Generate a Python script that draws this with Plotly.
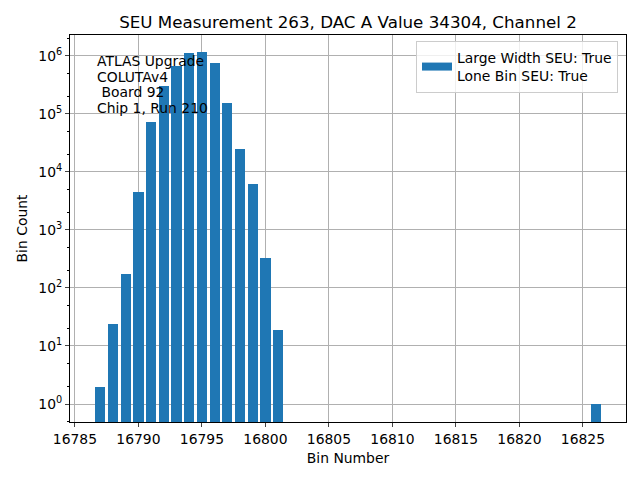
import plotly.graph_objects as go

bins = [16787, 16788, 16789, 16790, 16791, 16792, 16793, 16794, 16795,
        16796, 16797, 16798, 16799, 16800, 16801, 16826]
counts = [2, 24, 174, 4500, 73000, 303000, 670000, 1130000, 1170000,
          760000, 155000, 25000, 6200, 330, 19, 1]
legend_label = "Large Width SEU: True<br>Lone Bin SEU: True"
title = "SEU Measurement 263, DAC A Value 34304, Channel 2"
info_lines = ["ATLAS Upgrade", "COLUTAv4", " Board 92", "Chip 1, Run 210"]
xticks = [16785, 16790, 16795, 16800, 16805, 16810, 16815, 16820, 16825]
yticks = [1, 10, 100, 1000, 10000, 100000, 1000000]
yticktext = ["10<sup>%d</sup>" % i for i in range(7)]

font = "DejaVu Sans"
fs = 13.9
blue = "#1f77b4"
W, H = 640, 480
L, R, T, B = 70, 14, 35, 58
pw, ph = W - L - R, H - T - B

fig = go.Figure()
fig.add_trace(go.Bar(x=bins, y=counts, width=0.8, name=legend_label,
                     marker=dict(color=blue, line=dict(width=0)),
                     showlegend=False))
# legend entry drawn as a wide patch
fig.add_trace(go.Scatter(x=[None], y=[None], mode="lines", name=legend_label,
                         line=dict(color=blue, width=8), showlegend=True))

fig.update_layout(
    width=W, height=H,
    margin=dict(l=L, r=R, t=T, b=B, autoexpand=False),
    paper_bgcolor="white", plot_bgcolor="white",
    font=dict(family=font, size=fs, color="black"),
    title=dict(text=title, x=0.5, xanchor="center", y=1 - 22 / H,
               yanchor="middle", xref="paper",
               font=dict(size=16.7, family=font)),
    bargap=0,
    showlegend=True,
    legend=dict(x=(618 - L) / pw, y=(H - B - 41) / ph, xanchor="right", yanchor="top",
                bgcolor="rgba(255,255,255,0.8)", bordercolor="#cccccc",
                borderwidth=1, font=dict(size=fs, family=font),
                itemwidth=30, tracegroupgap=0),
)
fig.update_xaxes(
    range=[16784.61, 16828.39], tickvals=xticks, ticktext=[str(v) for v in xticks],
    ticks="outside", ticklen=4, automargin=False,
    showgrid=True, gridcolor="#b0b0b0", gridwidth=1,
    showline=True, linecolor="black", mirror=True, zeroline=False,
    title=dict(text="Bin Number", standoff=7, font=dict(size=fs)),
    tickfont=dict(size=fs),
)
fig.update_yaxes(
    type="log", range=[-0.31, 6.36], tickvals=yticks, ticktext=yticktext,
    ticks="outside", ticklen=4, automargin=False,
    showgrid=True, gridcolor="#b0b0b0", gridwidth=1,
    showline=True, linecolor="black", mirror=True, zeroline=False,
    title=dict(text="Bin Count", standoff=7, font=dict(size=fs)),
    tickfont=dict(size=fs),
    minor=dict(ticks="outside", ticklen=2, showgrid=False, tickcolor="black"),
)
line_centers = [61, 76.7, 92.4, 108]
for txt, yc in zip(info_lines, line_centers):
    fig.add_annotation(text=txt, xref="paper", yref="paper",
                       x=(95 - L) / pw, y=(H - B - yc) / ph,
                       xanchor="left", yanchor="middle", showarrow=False,
                       align="left", font=dict(size=fs, family=font, color="black"))
fig.write_html("out.html", config={"displayModeBar": False},
               post_script="document.body.style.margin='0px';")
